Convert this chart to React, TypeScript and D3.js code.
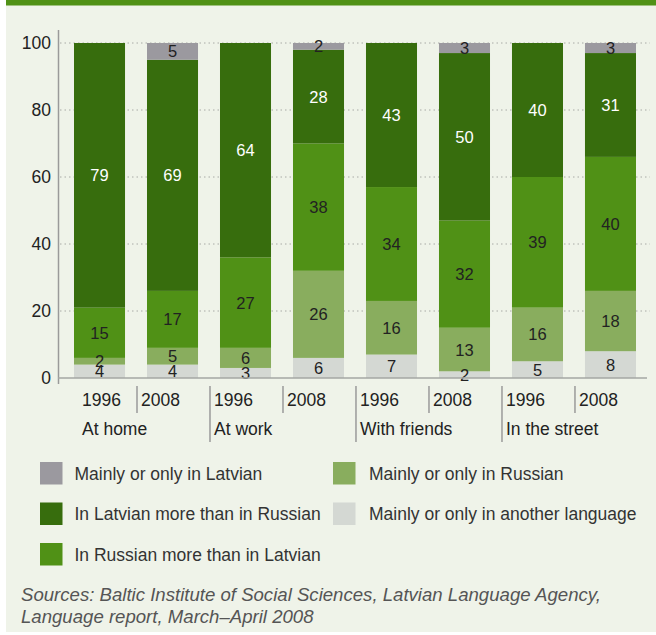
import React from "react";
import * as d3 from "d3";

const groups = ["At home", "At work", "With friends", "In the street"];
const years = ["1996", "2008"];
// stacked from bottom to top
const seriesNames = [
  "Mainly or only in another language",
  "Mainly or only in Russian",
  "In Russian more than in Latvian",
  "In Latvian more than in Russian",
  "Mainly or only in Latvian",
];
const anotherLang = [4, 4, 3, 6, 7, 2, 5, 8];
const mainlyRussian = [2, 5, 6, 26, 16, 13, 16, 18];
const russianMore = [15, 17, 27, 38, 34, 32, 39, 40];
const latvianMore = [79, 69, 64, 28, 43, 50, 40, 31];
const mainlyLatvian = [0, 5, 0, 2, 0, 3, 0, 3];
const yTicks = [0, 20, 40, 60, 80, 100];
const legendCol1 = [
  "Mainly or only in Latvian",
  "In Latvian more than in Russian",
  "In Russian more than in Latvian",
];
const legendCol2 = ["Mainly or only in Russian", "Mainly or only in another language"];
const sourceLines = [
  "Sources: Baltic Institute of Social Sciences, Latvian Language Agency,",
  "Language report, March\u2013April 2008",
];

const colors: Record<string, string> = {
  "Mainly or only in another language": "#d4d8d3",
  "Mainly or only in Russian": "#89ad5e",
  "In Russian more than in Latvian": "#509116",
  "In Latvian more than in Russian": "#376d0d",
  "Mainly or only in Latvian": "#9b999f",
};
const labelColor: Record<string, string> = {
  "Mainly or only in another language": "#222",
  "Mainly or only in Russian": "#222",
  "In Russian more than in Latvian": "#222",
  "In Latvian more than in Russian": "#fff",
  "Mainly or only in Latvian": "#222",
};

const FONT = "'Liberation Sans', Arial, Helvetica, sans-serif";

export default function App() {
  const W = 656;
  const H = 635;
  const seriesValues = [anotherLang, mainlyRussian, russianMore, latvianMore, mainlyLatvian];
  const barKeys = d3.range(8).map(String);
  const rows = barKeys.map((k, i) => {
    const r: any = { key: k };
    seriesNames.forEach((s, j) => (r[s] = seriesValues[j][i]));
    return r;
  });
  const stack = d3.stack<any>().keys(seriesNames)(rows);

  const x = d3.scaleBand().domain(barKeys).range([74, 636]).paddingInner(0.301).paddingOuter(0);
  const y = d3.scaleLinear().domain([0, 100]).range([378, 43]);

  const sepX = (i: number) => (i === 0 ? (x(barKeys[0]) as number) + 4 : (x(barKeys[i]) as number) - 10);

  return (
    <svg
      width={W}
      height={H}
      style={{ position: "absolute", left: 0, top: 0, fontFamily: FONT }}
    >
      <rect x={6} y={0} width={W - 6} height={632} fill="#eff3e9" />
      <rect x={6} y={0} width={W - 6} height={5.5} fill="#509116" />

      {/* grid */}
      {yTicks.filter((t) => t > 0).map((t) => (
        <line
          key={t}
          x1={60}
          x2={650}
          y1={y(t)}
          y2={y(t)}
          stroke="#a8aaa6"
          strokeWidth={1}
          strokeDasharray="1.5,3"
        />
      ))}

      {/* bars */}
      {stack.map((layer) =>
        layer.map((d, i) => {
          const v = d[1] - d[0];
          if (v <= 0) return null;
          return (
            <rect
              key={layer.key + i}
              x={x(barKeys[i])}
              y={y(d[1])}
              width={x.bandwidth()}
              height={y(d[0]) - y(d[1])}
              fill={colors[layer.key]}
            />
          );
        })
      )}
      {stack.map((layer) =>
        layer.map((d, i) => {
          const v = d[1] - d[0];
          if (v <= 0) return null;
          return (
            <text
              key={"t" + layer.key + i}
              x={(x(barKeys[i]) as number) + x.bandwidth() / 2}
              y={y((d[0] + d[1]) / 2) + 6}
              textAnchor="middle"
              fontSize={16.5}
              fill={labelColor[layer.key]}
            >
              {v}
            </text>
          );
        })
      )}

      {/* axes */}
      <line x1={58.5} x2={58.5} y1={30} y2={384} stroke="#9a9a9a" strokeWidth={1.5} />
      <line x1={58} x2={647} y1={378} y2={378} stroke="#a5a7a3" strokeWidth={1.5} />
      {yTicks.map((t) => (
        <text key={t} x={51} y={y(t) + 6.2} textAnchor="end" fontSize={17.5} fill="#222">
          {t}
        </text>
      ))}

      {/* x labels */}
      {barKeys.map((k, i) => {
        const sx = sepX(i);
        const tall = i % 2 === 0;
        return (
          <g key={"x" + k}>
            {i > 0 && (
              <line
                x1={sx}
                x2={sx}
                y1={386}
                y2={tall ? 442 : 413}
                stroke="#9a9a9a"
                strokeWidth={1.5}
              />
            )}
            <text x={sx + 4} y={405.5} fontSize={17.5} fill="#222">
              {years[i % 2]}
            </text>
            {tall && (
              <text x={sx + 4} y={435} fontSize={17.5} fill="#222">
                {groups[i / 2]}
              </text>
            )}
          </g>
        );
      })}

      {/* legend */}
      {legendCol1.map((s, i) => (
        <g key={s} transform={`translate(40, ${462 + i * 40.5})`}>
          <rect width={22.5} height={22.5} fill={colors[s]} />
          <text x={34.5} y={17.5} fontSize={17.5} fill="#333">
            {s}
          </text>
        </g>
      ))}
      {legendCol2.map((s, i) => (
        <g key={s} transform={`translate(333, ${462 + i * 40.5})`}>
          <rect width={22.5} height={22.5} fill={colors[s]} />
          <text x={36} y={17.5} fontSize={17.5} fill="#333">
            {s}
          </text>
        </g>
      ))}

      {sourceLines.map((l, i) => (
        <text
          key={i}
          x={21}
          y={601 + i * 21.5}
          fontSize={18.6}
          fontStyle="italic"
          fill="#555"
        >
          {l}
        </text>
      ))}
    </svg>
  );
}
